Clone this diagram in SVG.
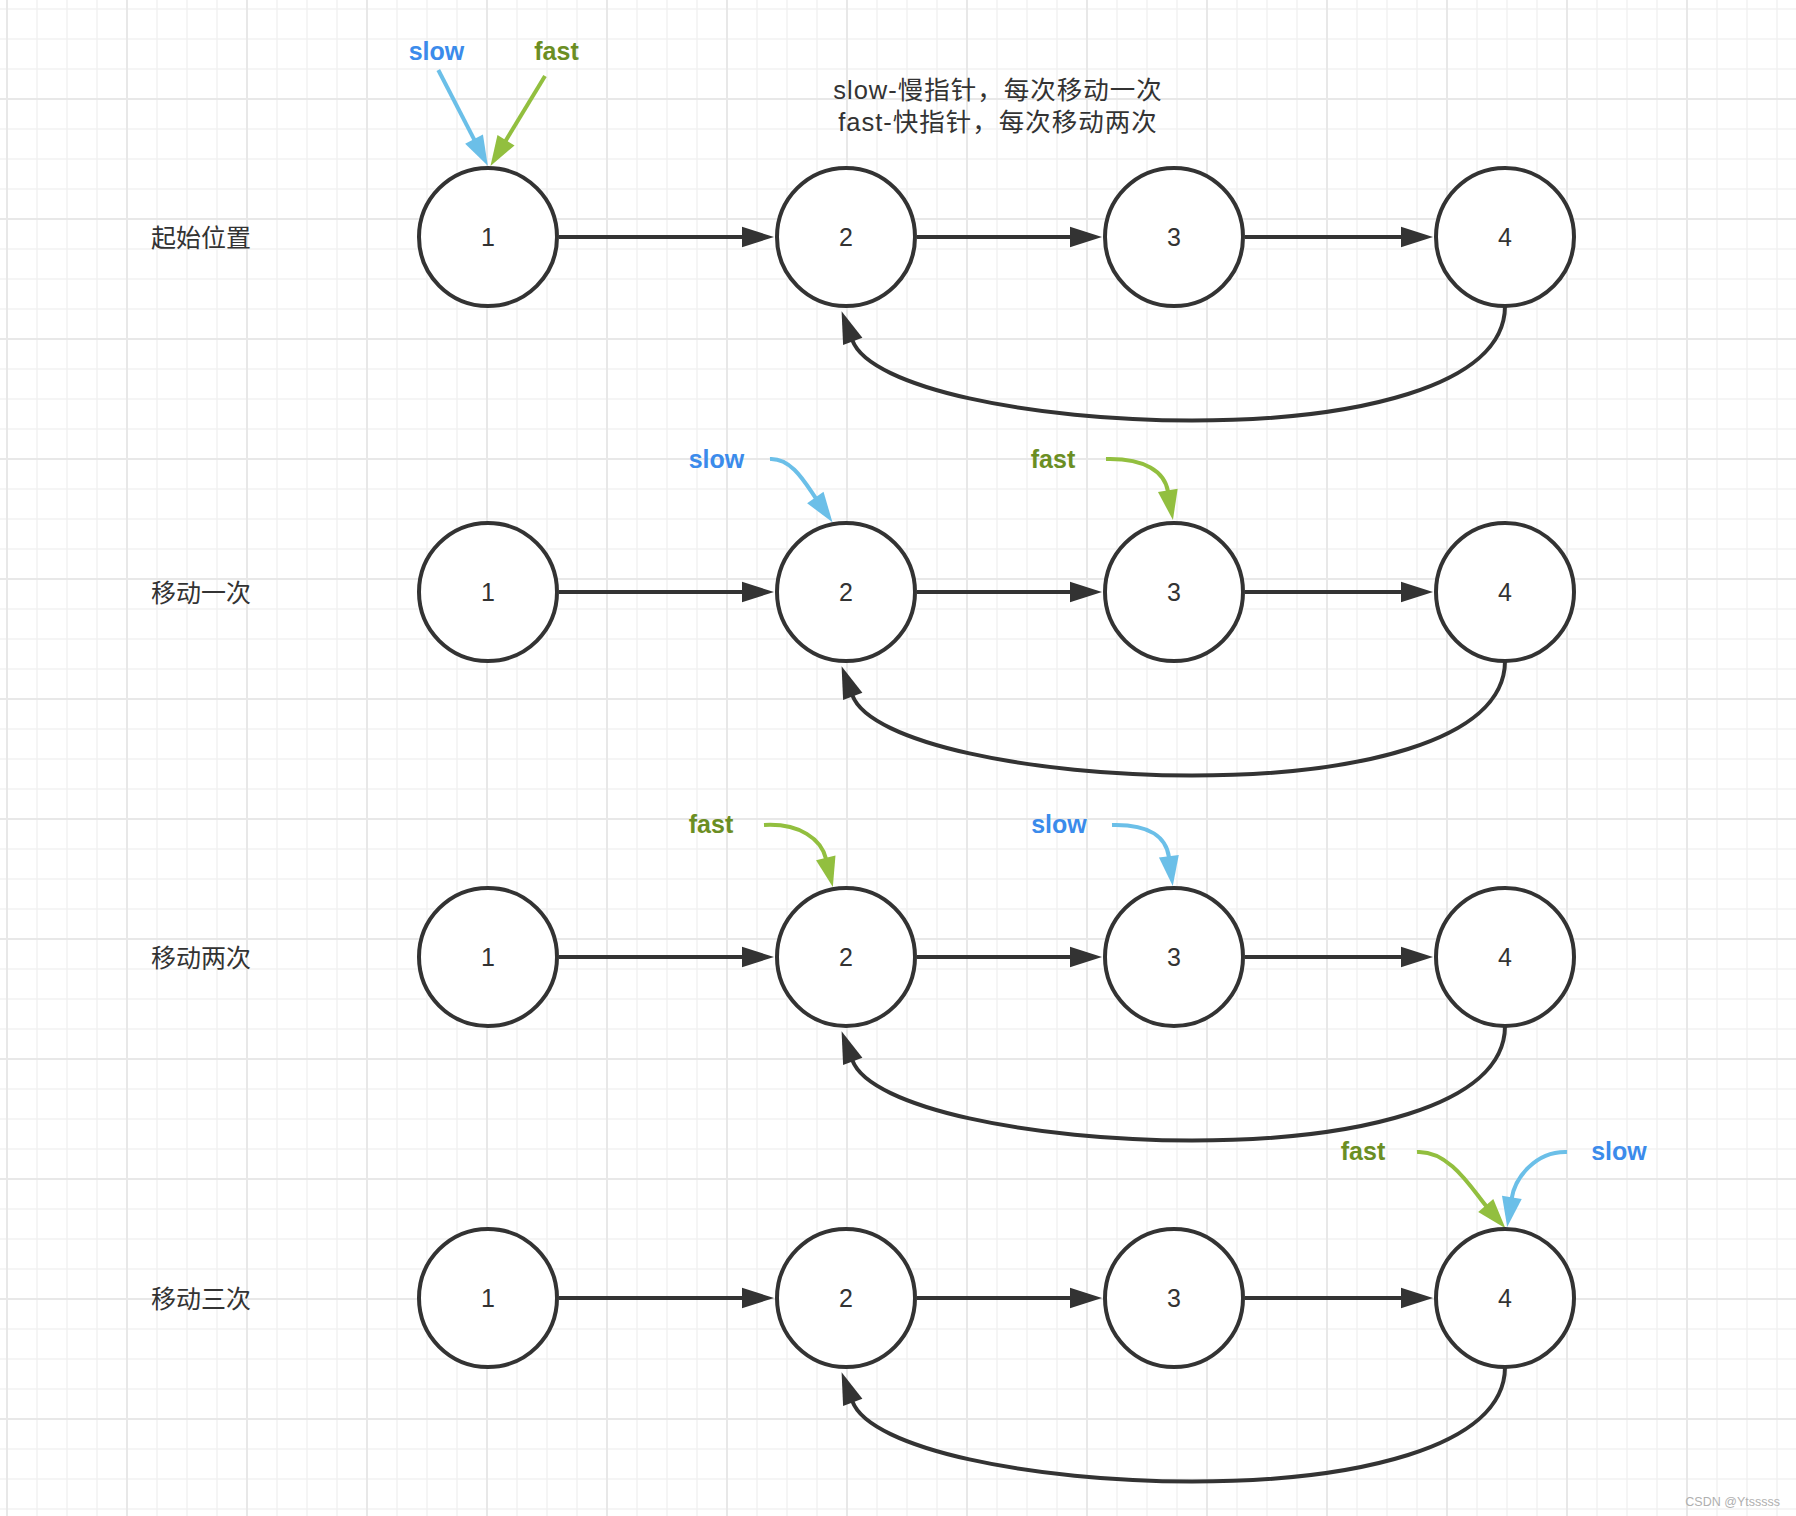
<svg xmlns="http://www.w3.org/2000/svg" width="1796" height="1516" viewBox="0 0 1796 1516">
<style>
.node circle{fill:#fff;stroke:#333;stroke-width:4}
.num{font-family:"Liberation Sans",Arial,sans-serif;font-size:25px;fill:#333;text-anchor:middle}
.rowlbl{font-family:"Liberation Sans","Noto Sans CJK SC",sans-serif;font-size:25px;fill:#333}
.desc{font-family:"Liberation Sans","Noto Sans CJK SC",sans-serif;font-size:25.5px;letter-spacing:1px;fill:#333;text-anchor:middle}
.slowt{font-family:"Liberation Sans",Arial,sans-serif;font-size:25px;font-weight:bold;fill:#3b8beb;text-anchor:middle}
.fastt{font-family:"Liberation Sans",Arial,sans-serif;font-size:25px;font-weight:bold;fill:#6b8e23;text-anchor:middle}
.link{fill:none;stroke:#333;stroke-width:4;marker-end:url(#ah)}
.ps{fill:none;stroke:#6bbfe8;stroke-width:4;marker-end:url(#ahb)}
.pf{fill:none;stroke:#92bf3f;stroke-width:4;marker-end:url(#ahg)}
</style>
<defs>
<pattern id="gmin" patternUnits="userSpaceOnUse" x="-8" y="-6" width="30" height="30">
<path d="M15 0V30M0 15H30" stroke="#f2f2f2" stroke-width="1.5" fill="none"/>
</pattern>
<pattern id="gmaj" patternUnits="userSpaceOnUse" x="-53" y="39" width="120" height="120">
<path d="M60 0V120M0 60H120" stroke="#e8e8e8" stroke-width="2" fill="none"/>
</pattern>
<marker id="ah" markerUnits="userSpaceOnUse" markerWidth="34" markerHeight="22" refX="1" refY="10.3" orient="auto" overflow="visible">
<path d="M0,0 L32,10.3 L0,20.6 Z" fill="#333"/>
</marker>
<marker id="ahb" markerUnits="userSpaceOnUse" markerWidth="32" markerHeight="22" refX="1" refY="10" orient="auto" overflow="visible">
<path d="M0,0 L30,10 L0,20 Z" fill="#6bbfe8"/>
</marker>
<marker id="ahg" markerUnits="userSpaceOnUse" markerWidth="32" markerHeight="22" refX="1" refY="10" orient="auto" overflow="visible">
<path d="M0,0 L30,10 L0,20 Z" fill="#92bf3f"/>
</marker>
</defs>
<rect x="0" y="0" width="1796" height="1516" fill="#fff"/>
<rect x="0" y="0" width="1796" height="1516" fill="url(#gmin)"/>
<rect x="0" y="0" width="1796" height="1516" fill="url(#gmaj)"/>

<g id="description">
<text class="desc" x="998" y="99">slow-慢指针，每次移动一次</text>
<text class="desc" x="998" y="131">fast-快指针，每次移动两次</text>
</g>

<g id="row-labels">
<text id="label-row1" class="rowlbl" x="151" y="247">起始位置</text>
<text id="label-row2" class="rowlbl" x="151" y="602">移动一次</text>
<text id="label-row3" class="rowlbl" x="151" y="967">移动两次</text>
<text id="label-row4" class="rowlbl" x="151" y="1308">移动三次</text>
</g>

<g id="connectors">
<path class="link" d="M559,237 H743"/>
<path class="link" d="M917,237 H1071"/>
<path class="link" d="M1245,237 H1402"/>
<path class="link" d="M1505,306 C1505,470 888,436 852.4,340.4"/>

<path class="link" d="M559,592 H743"/>
<path class="link" d="M917,592 H1071"/>
<path class="link" d="M1245,592 H1402"/>
<path class="link" d="M1505,661 C1505,825 888,791 852.4,695.4"/>

<path class="link" d="M559,957 H743"/>
<path class="link" d="M917,957 H1071"/>
<path class="link" d="M1245,957 H1402"/>
<path class="link" d="M1505,1026 C1505,1190 888,1156 852.4,1060.4"/>

<path class="link" d="M559,1298 H743"/>
<path class="link" d="M917,1298 H1071"/>
<path class="link" d="M1245,1298 H1402"/>
<path class="link" d="M1505,1367 C1505,1531 888,1497 852.4,1401.4"/>
</g>

<g id="pointers">
<path class="ps" d="M438.3,70 L474.5,140.1"/>
<path class="pf" d="M545,76 L505.5,141.1"/>
<path class="ps" d="M770,459 C792,458 805.6,483.6 815.9,498.4"/>
<path class="pf" d="M1106,459 C1145,458 1164.6,471.7 1168,491.4"/>
<path class="pf" d="M764,825 C800,823 821.3,839.4 826,858.8"/>
<path class="ps" d="M1112,825 C1150,824 1166.4,837.5 1169,857.3"/>
<path class="pf" d="M1417,1152 C1450,1150 1473.3,1191.2 1486.4,1206.3"/>
<path class="ps" d="M1567,1152 C1535,1151 1514.8,1178.6 1511.7,1198.4"/>
</g>

<g id="pointer-labels">
<text class="slowt" x="436.5" y="60">slow</text>
<text class="fastt" x="556.5" y="60">fast</text>
<text class="slowt" x="716.5" y="468">slow</text>
<text class="fastt" x="1053" y="468">fast</text>
<text class="fastt" x="711" y="833">fast</text>
<text class="slowt" x="1059" y="833">slow</text>
<text class="fastt" x="1363" y="1160">fast</text>
<text class="slowt" x="1619" y="1160">slow</text>
</g>

<g id="r1n1" class="node"><circle cx="488" cy="237" r="69"/><text class="num" x="488" y="246">1</text></g>
<g id="r1n2" class="node"><circle cx="846" cy="237" r="69"/><text class="num" x="846" y="246">2</text></g>
<g id="r1n3" class="node"><circle cx="1174" cy="237" r="69"/><text class="num" x="1174" y="246">3</text></g>
<g id="r1n4" class="node"><circle cx="1505" cy="237" r="69"/><text class="num" x="1505" y="246">4</text></g>

<g id="r2n1" class="node"><circle cx="488" cy="592" r="69"/><text class="num" x="488" y="601">1</text></g>
<g id="r2n2" class="node"><circle cx="846" cy="592" r="69"/><text class="num" x="846" y="601">2</text></g>
<g id="r2n3" class="node"><circle cx="1174" cy="592" r="69"/><text class="num" x="1174" y="601">3</text></g>
<g id="r2n4" class="node"><circle cx="1505" cy="592" r="69"/><text class="num" x="1505" y="601">4</text></g>

<g id="r3n1" class="node"><circle cx="488" cy="957" r="69"/><text class="num" x="488" y="966">1</text></g>
<g id="r3n2" class="node"><circle cx="846" cy="957" r="69"/><text class="num" x="846" y="966">2</text></g>
<g id="r3n3" class="node"><circle cx="1174" cy="957" r="69"/><text class="num" x="1174" y="966">3</text></g>
<g id="r3n4" class="node"><circle cx="1505" cy="957" r="69"/><text class="num" x="1505" y="966">4</text></g>

<g id="r4n1" class="node"><circle cx="488" cy="1298" r="69"/><text class="num" x="488" y="1307">1</text></g>
<g id="r4n2" class="node"><circle cx="846" cy="1298" r="69"/><text class="num" x="846" y="1307">2</text></g>
<g id="r4n3" class="node"><circle cx="1174" cy="1298" r="69"/><text class="num" x="1174" y="1307">3</text></g>
<g id="r4n4" class="node"><circle cx="1505" cy="1298" r="69"/><text class="num" x="1505" y="1307">4</text></g>

<text x="1780" y="1506" font-family="'Liberation Sans',Arial,sans-serif" font-size="12.5" fill="#b0b0b0" text-anchor="end">CSDN @Ytsssss</text>
</svg>
